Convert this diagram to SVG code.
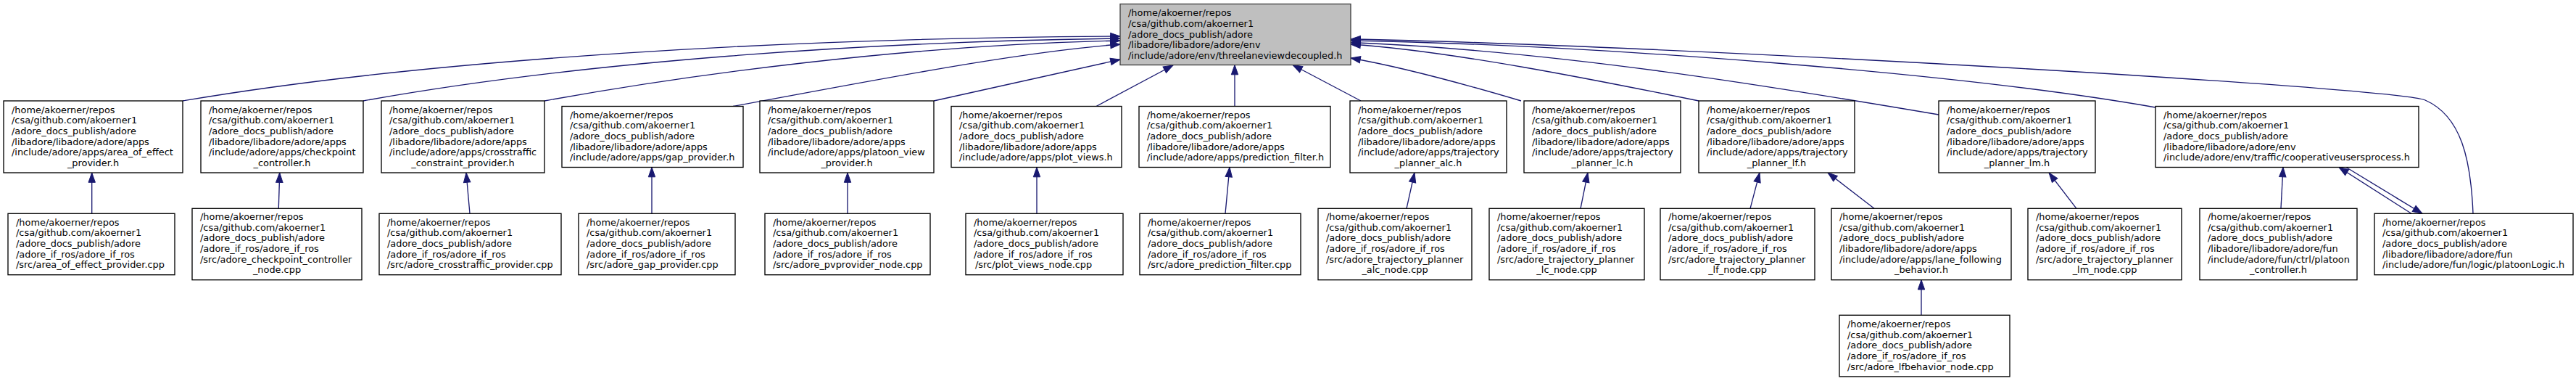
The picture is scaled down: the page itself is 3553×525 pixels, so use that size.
<svg xmlns="http://www.w3.org/2000/svg" width="3553" height="525" viewBox="0 0 3553 525">
<style>
.n rect { fill:#ffffff; stroke:#000000; stroke-width:1.33; }
#root rect { fill:#bfbfbf; stroke:#404040; }
text { font-family:"DejaVu Sans","Liberation Sans",sans-serif; font-size:12.9px; fill:#000000; }
.c { text-anchor:middle; }
.e path { fill:none; stroke:#191970; stroke-width:1.33; marker-end:url(#arr); }
</style>
<defs>
<marker id="arr" markerUnits="userSpaceOnUse" viewBox="0 0 13.3 9.4" refX="13.3" refY="4.7" markerWidth="13.3" markerHeight="9.4" orient="auto" overflow="visible">
<path d="M0,0 L13.3,4.7 L0,9.4 z" fill="#191970" stroke="#191970" stroke-width="1"/>
</marker>
</defs>
<rect x="0" y="0" width="3553" height="525" fill="#ffffff"/>

<g class="e" id="edges">
<path d="M252,139 C600,80 1100,52 1545,50"/>
<path d="M501,139 C800,85 1200,57 1545,53"/>
<path d="M751,139 C950,103 1250,62 1545,56"/>
<path d="M1011,146.5 C1200,112 1400,72 1545,61"/>
<path d="M1288,139 L1545,82"/>
<path d="M1512,146.5 L1618,90"/>
<path d="M1703,146.5 L1703,89.5"/>
<path d="M1877,139 L1783,89.5"/>
<path d="M2098,139 C2000,110 1920,90 1863,80"/>
<path d="M2343,139 C2200,110 2000,70 1863,61"/>
<path d="M2674,158 C2450,120 2150,70 1863,58.5"/>
<path d="M2973,148 C2700,100 2200,62 1863,56"/>
<path d="M3411,294.3 C3408,220 3395,160 3345,138 C3300,120 2300,62 1863,54"/>
<path d="M126.7,294.3 L126.7,238"/>
<path d="M384.3,287.3 L385.7,238"/>
<path d="M648,294.3 L643,238"/>
<path d="M899,294.3 L899,230.5"/>
<path d="M1169,294.3 L1169,238"/>
<path d="M1430,294.3 L1430,230.5"/>
<path d="M1690,294.3 L1696,230.5"/>
<path d="M1940,287.3 L1951,238"/>
<path d="M2180,287.3 L2190,238"/>
<path d="M2414,287.3 L2427,238"/>
<path d="M2585,287.3 L2521,238"/>
<path d="M2864,287.3 L2826,238"/>
<path d="M3146,287.3 L3149,230.5"/>
<path d="M3326,294.3 L3226,230.5"/>
<path d="M3236,230.5 L3341,294.3"/>
<path d="M2650,434.3 L2650,385.7"/>
</g>

<g class="n" id="root">
<rect x="1545" y="5.5" width="318" height="84"/>
<text x="1556" y="22.2"><tspan x="1556">/home/akoerner/repos</tspan><tspan x="1556" dy="14.67">/csa/github.com/akoerner1</tspan><tspan x="1556" dy="14.67">/adore_docs_publish/adore</tspan><tspan x="1556" dy="14.67">/libadore/libadore/adore/env</tspan><tspan x="1556" dy="14.67">/include/adore/env/threelaneviewdecoupled.h</tspan></text>
</g>

<g class="n" id="area_of_effect_provider_h">
<rect x="5" y="139" width="247" height="99"/>
<text x="16" y="155.5"><tspan x="16">/home/akoerner/repos</tspan><tspan x="16" dy="14.67">/csa/github.com/akoerner1</tspan><tspan x="16" dy="14.67">/adore_docs_publish/adore</tspan><tspan x="16" dy="14.67">/libadore/libadore/adore/apps</tspan><tspan x="16" dy="14.67">/include/adore/apps/area_of_effect</tspan></text>
<text class="c" x="128.5" y="228.85">_provider.h</text>
</g>

<g class="n" id="checkpoint_controller_h">
<rect x="277" y="139" width="224" height="99"/>
<text x="288" y="155.5"><tspan x="288">/home/akoerner/repos</tspan><tspan x="288" dy="14.67">/csa/github.com/akoerner1</tspan><tspan x="288" dy="14.67">/adore_docs_publish/adore</tspan><tspan x="288" dy="14.67">/libadore/libadore/adore/apps</tspan><tspan x="288" dy="14.67">/include/adore/apps/checkpoint</tspan></text>
<text class="c" x="389" y="228.85">_controller.h</text>
</g>

<g class="n" id="crosstraffic_constraint_provider_h">
<rect x="526" y="139" width="225" height="99"/>
<text x="537" y="155.5"><tspan x="537">/home/akoerner/repos</tspan><tspan x="537" dy="14.67">/csa/github.com/akoerner1</tspan><tspan x="537" dy="14.67">/adore_docs_publish/adore</tspan><tspan x="537" dy="14.67">/libadore/libadore/adore/apps</tspan><tspan x="537" dy="14.67">/include/adore/apps/crosstraffic</tspan></text>
<text class="c" x="638.5" y="228.85">_constraint_provider.h</text>
</g>

<g class="n" id="gap_provider_h">
<rect x="775" y="146.5" width="250" height="84"/>
<text x="786" y="162.8"><tspan x="786">/home/akoerner/repos</tspan><tspan x="786" dy="14.67">/csa/github.com/akoerner1</tspan><tspan x="786" dy="14.67">/adore_docs_publish/adore</tspan><tspan x="786" dy="14.67">/libadore/libadore/adore/apps</tspan><tspan x="786" dy="14.67">/include/adore/apps/gap_provider.h</tspan></text>
</g>

<g class="n" id="platoon_view_provider_h">
<rect x="1048" y="139" width="240" height="99"/>
<text x="1059" y="155.5"><tspan x="1059">/home/akoerner/repos</tspan><tspan x="1059" dy="14.67">/csa/github.com/akoerner1</tspan><tspan x="1059" dy="14.67">/adore_docs_publish/adore</tspan><tspan x="1059" dy="14.67">/libadore/libadore/adore/apps</tspan><tspan x="1059" dy="14.67">/include/adore/apps/platoon_view</tspan></text>
<text class="c" x="1168" y="228.85">_provider.h</text>
</g>

<g class="n" id="plot_views_h">
<rect x="1312" y="146.5" width="235" height="84"/>
<text x="1323" y="162.8"><tspan x="1323">/home/akoerner/repos</tspan><tspan x="1323" dy="14.67">/csa/github.com/akoerner1</tspan><tspan x="1323" dy="14.67">/adore_docs_publish/adore</tspan><tspan x="1323" dy="14.67">/libadore/libadore/adore/apps</tspan><tspan x="1323" dy="14.67">/include/adore/apps/plot_views.h</tspan></text>
</g>

<g class="n" id="prediction_filter_h">
<rect x="1571" y="146.5" width="264" height="84"/>
<text x="1582" y="162.8"><tspan x="1582">/home/akoerner/repos</tspan><tspan x="1582" dy="14.67">/csa/github.com/akoerner1</tspan><tspan x="1582" dy="14.67">/adore_docs_publish/adore</tspan><tspan x="1582" dy="14.67">/libadore/libadore/adore/apps</tspan><tspan x="1582" dy="14.67">/include/adore/apps/prediction_filter.h</tspan></text>
</g>

<g class="n" id="trajectory_planner_alc_h">
<rect x="1862" y="139" width="216" height="99"/>
<text x="1873" y="155.5"><tspan x="1873">/home/akoerner/repos</tspan><tspan x="1873" dy="14.67">/csa/github.com/akoerner1</tspan><tspan x="1873" dy="14.67">/adore_docs_publish/adore</tspan><tspan x="1873" dy="14.67">/libadore/libadore/adore/apps</tspan><tspan x="1873" dy="14.67">/include/adore/apps/trajectory</tspan></text>
<text class="c" x="1970" y="228.85">_planner_alc.h</text>
</g>

<g class="n" id="trajectory_planner_lc_h">
<rect x="2102" y="139" width="216" height="99"/>
<text x="2113" y="155.5"><tspan x="2113">/home/akoerner/repos</tspan><tspan x="2113" dy="14.67">/csa/github.com/akoerner1</tspan><tspan x="2113" dy="14.67">/adore_docs_publish/adore</tspan><tspan x="2113" dy="14.67">/libadore/libadore/adore/apps</tspan><tspan x="2113" dy="14.67">/include/adore/apps/trajectory</tspan></text>
<text class="c" x="2210" y="228.85">_planner_lc.h</text>
</g>

<g class="n" id="trajectory_planner_lf_h">
<rect x="2343" y="139" width="215" height="99"/>
<text x="2354" y="155.5"><tspan x="2354">/home/akoerner/repos</tspan><tspan x="2354" dy="14.67">/csa/github.com/akoerner1</tspan><tspan x="2354" dy="14.67">/adore_docs_publish/adore</tspan><tspan x="2354" dy="14.67">/libadore/libadore/adore/apps</tspan><tspan x="2354" dy="14.67">/include/adore/apps/trajectory</tspan></text>
<text class="c" x="2450.5" y="228.85">_planner_lf.h</text>
</g>

<g class="n" id="trajectory_planner_lm_h">
<rect x="2674" y="139" width="216" height="99"/>
<text x="2685" y="155.5"><tspan x="2685">/home/akoerner/repos</tspan><tspan x="2685" dy="14.67">/csa/github.com/akoerner1</tspan><tspan x="2685" dy="14.67">/adore_docs_publish/adore</tspan><tspan x="2685" dy="14.67">/libadore/libadore/adore/apps</tspan><tspan x="2685" dy="14.67">/include/adore/apps/trajectory</tspan></text>
<text class="c" x="2782" y="228.85">_planner_lm.h</text>
</g>

<g class="n" id="cooperativeusersprocess_h">
<rect x="2973" y="146.5" width="363" height="84"/>
<text x="2984" y="162.8"><tspan x="2984">/home/akoerner/repos</tspan><tspan x="2984" dy="14.67">/csa/github.com/akoerner1</tspan><tspan x="2984" dy="14.67">/adore_docs_publish/adore</tspan><tspan x="2984" dy="14.67">/libadore/libadore/adore/env</tspan><tspan x="2984" dy="14.67">/include/adore/env/traffic/cooperativeusersprocess.h</tspan></text>
</g>

<g class="n" id="area_of_effect_provider_cpp">
<rect x="11" y="294.3" width="230" height="84.4"/>
<text x="22" y="310.8"><tspan x="22">/home/akoerner/repos</tspan><tspan x="22" dy="14.67">/csa/github.com/akoerner1</tspan><tspan x="22" dy="14.67">/adore_docs_publish/adore</tspan><tspan x="22" dy="14.67">/adore_if_ros/adore_if_ros</tspan><tspan x="22" dy="14.67">/src/area_of_effect_provider.cpp</tspan></text>
</g>

<g class="n" id="adore_checkpoint_controller_node_cpp">
<rect x="265" y="287.3" width="234" height="98.4"/>
<text x="276" y="303"><tspan x="276">/home/akoerner/repos</tspan><tspan x="276" dy="14.67">/csa/github.com/akoerner1</tspan><tspan x="276" dy="14.67">/adore_docs_publish/adore</tspan><tspan x="276" dy="14.67">/adore_if_ros/adore_if_ros</tspan><tspan x="276" dy="14.67">/src/adore_checkpoint_controller</tspan></text>
<text class="c" x="382" y="376.35">_node.cpp</text>
</g>

<g class="n" id="adore_crosstraffic_provider_cpp">
<rect x="523" y="294.3" width="251" height="84.4"/>
<text x="534" y="310.8"><tspan x="534">/home/akoerner/repos</tspan><tspan x="534" dy="14.67">/csa/github.com/akoerner1</tspan><tspan x="534" dy="14.67">/adore_docs_publish/adore</tspan><tspan x="534" dy="14.67">/adore_if_ros/adore_if_ros</tspan><tspan x="534" dy="14.67">/src/adore_crosstraffic_provider.cpp</tspan></text>
</g>

<g class="n" id="adore_gap_provider_cpp">
<rect x="798" y="294.3" width="216" height="84.4"/>
<text x="809" y="310.8"><tspan x="809">/home/akoerner/repos</tspan><tspan x="809" dy="14.67">/csa/github.com/akoerner1</tspan><tspan x="809" dy="14.67">/adore_docs_publish/adore</tspan><tspan x="809" dy="14.67">/adore_if_ros/adore_if_ros</tspan><tspan x="809" dy="14.67">/src/adore_gap_provider.cpp</tspan></text>
</g>

<g class="n" id="adore_pvprovider_node_cpp">
<rect x="1055" y="294.3" width="228" height="84.4"/>
<text x="1066" y="310.8"><tspan x="1066">/home/akoerner/repos</tspan><tspan x="1066" dy="14.67">/csa/github.com/akoerner1</tspan><tspan x="1066" dy="14.67">/adore_docs_publish/adore</tspan><tspan x="1066" dy="14.67">/adore_if_ros/adore_if_ros</tspan><tspan x="1066" dy="14.67">/src/adore_pvprovider_node.cpp</tspan></text>
</g>

<g class="n" id="plot_views_node_cpp">
<rect x="1332" y="294.3" width="217" height="84.4"/>
<text x="1343" y="310.8"><tspan x="1343">/home/akoerner/repos</tspan><tspan x="1343" dy="14.67">/csa/github.com/akoerner1</tspan><tspan x="1343" dy="14.67">/adore_docs_publish/adore</tspan><tspan x="1343" dy="14.67">/adore_if_ros/adore_if_ros</tspan><tspan x="1345" dy="14.67">/src/plot_views_node.cpp</tspan></text>
</g>

<g class="n" id="adore_prediction_filter_cpp">
<rect x="1572" y="294.3" width="222" height="84.4"/>
<text x="1583" y="310.8"><tspan x="1583">/home/akoerner/repos</tspan><tspan x="1583" dy="14.67">/csa/github.com/akoerner1</tspan><tspan x="1583" dy="14.67">/adore_docs_publish/adore</tspan><tspan x="1583" dy="14.67">/adore_if_ros/adore_if_ros</tspan><tspan x="1583" dy="14.67">/src/adore_prediction_filter.cpp</tspan></text>
</g>

<g class="n" id="adore_trajectory_planner_alc_node_cpp">
<rect x="1818" y="287.3" width="212" height="98.4"/>
<text x="1829" y="303"><tspan x="1829">/home/akoerner/repos</tspan><tspan x="1829" dy="14.67">/csa/github.com/akoerner1</tspan><tspan x="1829" dy="14.67">/adore_docs_publish/adore</tspan><tspan x="1829" dy="14.67">/adore_if_ros/adore_if_ros</tspan><tspan x="1829" dy="14.67">/src/adore_trajectory_planner</tspan></text>
<text class="c" x="1924" y="376.35">_alc_node.cpp</text>
</g>

<g class="n" id="adore_trajectory_planner_lc_node_cpp">
<rect x="2054" y="287.3" width="214" height="98.4"/>
<text x="2065" y="303"><tspan x="2065">/home/akoerner/repos</tspan><tspan x="2065" dy="14.67">/csa/github.com/akoerner1</tspan><tspan x="2065" dy="14.67">/adore_docs_publish/adore</tspan><tspan x="2065" dy="14.67">/adore_if_ros/adore_if_ros</tspan><tspan x="2065" dy="14.67">/src/adore_trajectory_planner</tspan></text>
<text class="c" x="2161" y="376.35">_lc_node.cpp</text>
</g>

<g class="n" id="adore_trajectory_planner_lf_node_cpp">
<rect x="2290" y="287.3" width="213" height="98.4"/>
<text x="2301" y="303"><tspan x="2301">/home/akoerner/repos</tspan><tspan x="2301" dy="14.67">/csa/github.com/akoerner1</tspan><tspan x="2301" dy="14.67">/adore_docs_publish/adore</tspan><tspan x="2301" dy="14.67">/adore_if_ros/adore_if_ros</tspan><tspan x="2301" dy="14.67">/src/adore_trajectory_planner</tspan></text>
<text class="c" x="2396.5" y="376.35">_lf_node.cpp</text>
</g>

<g class="n" id="lane_following_behavior_h">
<rect x="2526" y="287.3" width="248" height="98.4"/>
<text x="2537" y="303"><tspan x="2537">/home/akoerner/repos</tspan><tspan x="2537" dy="14.67">/csa/github.com/akoerner1</tspan><tspan x="2537" dy="14.67">/adore_docs_publish/adore</tspan><tspan x="2537" dy="14.67">/libadore/libadore/adore/apps</tspan><tspan x="2537" dy="14.67">/include/adore/apps/lane_following</tspan></text>
<text class="c" x="2650" y="376.35">_behavior.h</text>
</g>

<g class="n" id="adore_trajectory_planner_lm_node_cpp">
<rect x="2797" y="287.3" width="212" height="98.4"/>
<text x="2808" y="303"><tspan x="2808">/home/akoerner/repos</tspan><tspan x="2808" dy="14.67">/csa/github.com/akoerner1</tspan><tspan x="2808" dy="14.67">/adore_docs_publish/adore</tspan><tspan x="2808" dy="14.67">/adore_if_ros/adore_if_ros</tspan><tspan x="2808" dy="14.67">/src/adore_trajectory_planner</tspan></text>
<text class="c" x="2903" y="376.35">_lm_node.cpp</text>
</g>

<g class="n" id="platoon_controller_h">
<rect x="3034" y="287.3" width="217" height="98.4"/>
<text x="3045" y="303"><tspan x="3045">/home/akoerner/repos</tspan><tspan x="3045" dy="14.67">/csa/github.com/akoerner1</tspan><tspan x="3045" dy="14.67">/adore_docs_publish/adore</tspan><tspan x="3045" dy="14.67">/libadore/libadore/adore/fun</tspan><tspan x="3045" dy="14.67">/include/adore/fun/ctrl/platoon</tspan></text>
<text class="c" x="3142.5" y="376.35">_controller.h</text>
</g>

<g class="n" id="platoonLogic_h">
<rect x="3275" y="294.3" width="274" height="84.4"/>
<text x="3286" y="310.8"><tspan x="3286">/home/akoerner/repos</tspan><tspan x="3286" dy="14.67">/csa/github.com/akoerner1</tspan><tspan x="3286" dy="14.67">/adore_docs_publish/adore</tspan><tspan x="3286" dy="14.67">/libadore/libadore/adore/fun</tspan><tspan x="3286" dy="14.67">/include/adore/fun/logic/platoonLogic.h</tspan></text>
</g>

<g class="n" id="adore_lfbehavior_node_cpp">
<rect x="2537" y="434.3" width="235" height="84.6"/>
<text x="2548" y="450.9"><tspan x="2548">/home/akoerner/repos</tspan><tspan x="2548" dy="14.67">/csa/github.com/akoerner1</tspan><tspan x="2548" dy="14.67">/adore_docs_publish/adore</tspan><tspan x="2548" dy="14.67">/adore_if_ros/adore_if_ros</tspan><tspan x="2548" dy="14.67">/src/adore_lfbehavior_node.cpp</tspan></text>
</g>
</svg>
